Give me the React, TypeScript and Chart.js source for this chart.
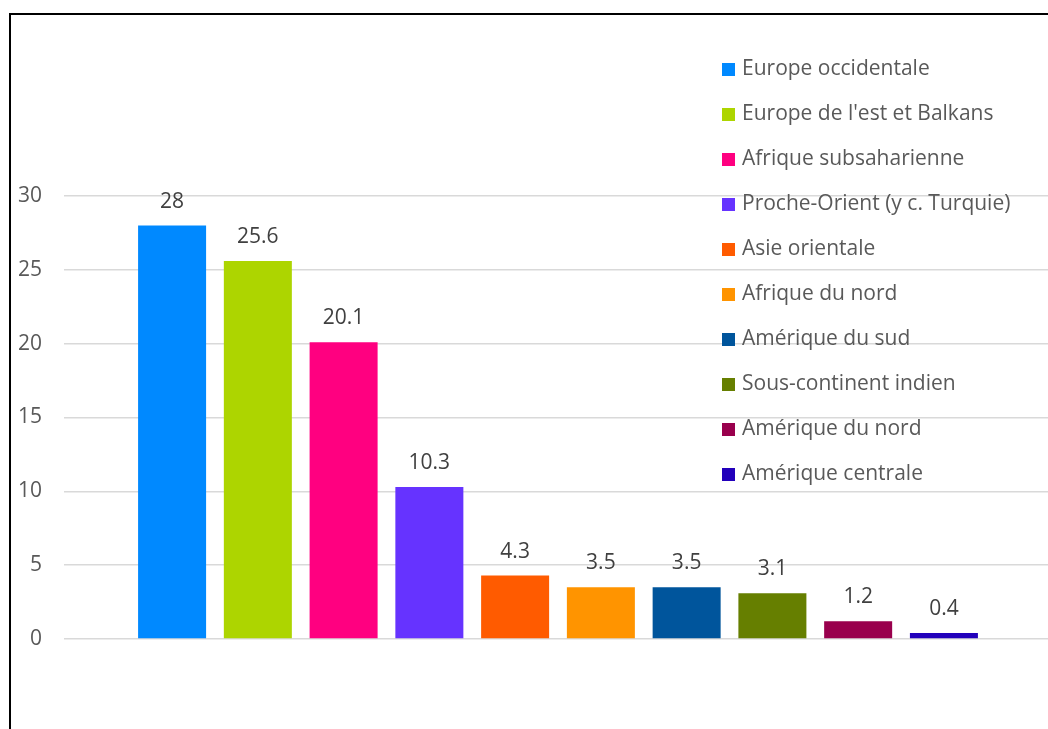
import React, { useEffect, useRef } from "react";
import { Chart, registerables } from "chart.js";

Chart.register(...registerables);

// Répartition par région d'origine (%)
const regions = [
  "Europe occidentale",
  "Europe de l'est et Balkans",
  "Afrique subsaharienne",
  "Proche-Orient (y c. Turquie)",
  "Asie orientale",
  "Afrique du nord",
  "Amérique du sud",
  "Sous-continent indien",
  "Amérique du nord",
  "Amérique centrale",
];
const values = [28, 25.6, 20.1, 10.3, 4.3, 3.5, 3.5, 3.1, 1.2, 0.4];
const colors = [
  "#0089FF",
  "#ADD500",
  "#FF0080",
  "#6633FF",
  "#FF5B00",
  "#FF9400",
  "#00559C",
  "#667F00",
  "#99004D",
  "#2200BB",
];
const yTicks = [0, 5, 10, 15, 20, 25, 30];

const FONT = "'Open Sans', 'Noto Sans', sans-serif";
const FONT_SIZE = 21;

// Value label above each bar
const valueLabels = {
  id: "valueLabels",
  afterDatasetsDraw(chart: any) {
    const ctx = chart.ctx;
    ctx.save();
    ctx.font = `${FONT_SIZE}px ${FONT}`;
    ctx.fillStyle = "#404040";
    ctx.textAlign = "center";
    ctx.textBaseline = "alphabetic";
    chart.data.datasets.forEach((ds: any, i: number) => {
      const el = chart.getDatasetMeta(i).data[0];
      if (!el) return;
      ctx.fillText(String(ds.data[0]), el.x, el.y - 18);
    });
    ctx.restore();
  },
};

// Legend stacked in the upper right part of the plot
const sideLegend = {
  id: "sideLegend",
  afterDraw(chart: any) {
    const ctx = chart.ctx;
    ctx.save();
    ctx.font = `${FONT_SIZE}px ${FONT}`;
    ctx.textAlign = "left";
    ctx.textBaseline = "alphabetic";
    chart.data.datasets.forEach((ds: any, i: number) => {
      const y = 63 + i * 45;
      ctx.fillStyle = ds.backgroundColor;
      ctx.fillRect(722, y, 13, 13);
      ctx.fillStyle = "#595959";
      ctx.fillText(ds.label, 742, y + 12);
    });
    ctx.restore();
  },
};

export default function App() {
  const canvasRef = useRef<HTMLCanvasElement | null>(null);

  useEffect(() => {
    if (!canvasRef.current) return;
    const chart = new Chart(canvasRef.current, {
      type: "bar",
      data: {
        labels: [""],
        datasets: regions.map((r, i) => ({
          label: r,
          data: [values[i]],
          backgroundColor: colors[i],
          borderWidth: 0,
          categoryPercentage: 0.868,
          barPercentage: 0.793,
        })),
      },
      options: {
        responsive: false,
        animation: false,
        devicePixelRatio: 1,
        layout: { padding: { top: 196, bottom: 90, right: 8, left: 0 } },
        plugins: {
          legend: { display: false },
          tooltip: { enabled: false },
        },
        scales: {
          x: { display: false },
          y: {
            min: 0,
            max: 30,
            afterBuildTicks(scale: any) {
              scale.ticks = yTicks.map((v) => ({ value: v }));
            },
            afterFit(scale: any) {
              scale.width = 64;
            },
            border: { display: false },
            grid: { color: "#d9d9d9", lineWidth: 1.5, drawTicks: false },
            ticks: {
              padding: 22,
              color: "#595959",
              font: { family: FONT, size: FONT_SIZE },
            },
          },
        },
      },
      plugins: [valueLabels, sideLegend],
    });
    return () => chart.destroy();
  }, []);

  return (
    <div
      style={{
        position: "fixed",
        left: 0,
        top: 0,
        width: 1048,
        height: 729,
        overflow: "hidden",
        background: "#ffffff",
      }}
    >
      <canvas
        ref={canvasRef}
        width={1060}
        height={729}
        style={{ position: "absolute", left: 0, top: 0, width: 1060, height: 729 }}
      />
      <div
        style={{
          position: "absolute",
          left: 9,
          top: 13,
          width: 1200,
          height: 900,
          borderTop: "2px solid #000",
          borderLeft: "2px solid #000",
          pointerEvents: "none",
        }}
      />
    </div>
  );
}
